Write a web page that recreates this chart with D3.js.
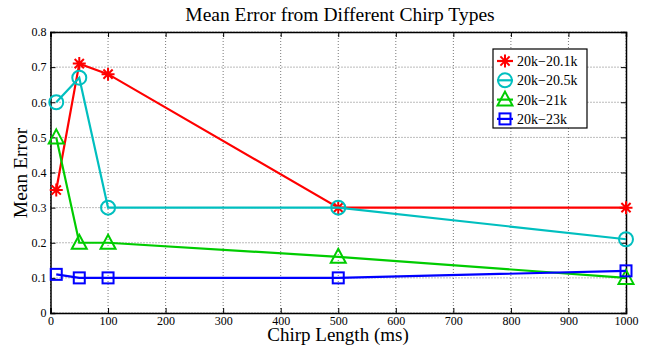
<!DOCTYPE html>
<html>
<head>
<meta charset="utf-8">
<script src="https://cdn.jsdelivr.net/npm/d3@7"></script>
<style>
  body { margin: 0; background: #fff; }
  svg text { font-family: "Liberation Serif", "Times New Roman", serif; fill: #000; }
</style>
</head>
<body>
<div id="chart"></div>
<script>
// chirp lengths (ms)
var lengths = [10, 50, 100, 500, 1000];

var seriesNames = ["20k\u221220.1k", "20k\u221220.5k", "20k\u221221k", "20k\u221223k"];
var err201 = [0.35, 0.71, 0.68, 0.30, 0.30];
var err205 = [0.60, 0.67, 0.30, 0.30, 0.21];
var err21  = [0.50, 0.20, 0.20, 0.16, 0.10];
var err23  = [0.11, 0.10, 0.10, 0.10, 0.12];

var xTicks = [0, 100, 200, 300, 400, 500, 600, 700, 800, 900, 1000];
var yTicks = [0, 0.1, 0.2, 0.3, 0.4, 0.5, 0.6, 0.7, 0.8];

var colors = ["#ff0000", "#00bfbf", "#00cc00", "#0000ff"];
var markers = ["star", "circle", "triangle", "square"];

var margin = {top: 32, right: 25, bottom: 35, left: 50.5},
    width = 651 - margin.left - margin.right,
    height = 348 - margin.top - margin.bottom;

var svg = d3.select("#chart").append("svg")
    .attr("width", 651)
    .attr("height", 348);

var g = svg.append("g")
    .attr("transform", "translate(" + margin.left + "," + margin.top + ")");

var x = d3.scaleLinear().domain([0, 1000]).range([0, width]);
var y = d3.scaleLinear().domain([0, 0.8]).range([height, 0]);

// dotted grid
g.selectAll(".vgrid").data(xTicks).enter().append("line")
    .attr("x1", function(d) { return x(d); })
    .attr("x2", function(d) { return x(d); })
    .attr("y1", 0).attr("y2", height)
    .attr("stroke", "#555").attr("stroke-width", 0.8)
    .attr("stroke-dasharray", "1,2");
g.selectAll(".hgrid").data(yTicks).enter().append("line")
    .attr("y1", function(d) { return y(d); })
    .attr("y2", function(d) { return y(d); })
    .attr("x1", 0).attr("x2", width)
    .attr("stroke", "#555").attr("stroke-width", 0.8)
    .attr("stroke-dasharray", "1,2");

// axes, ticks inward like matlab
var fmtY = function(d) { return d === 0 ? "0" : d3.format(".1f")(d); };
var fmtX = d3.format("d");
g.append("g").attr("transform", "translate(0," + height + ")")
    .call(d3.axisBottom(x).tickValues(xTicks).tickFormat(fmtX).tickSize(-5).tickPadding(3));
g.append("g")
    .call(d3.axisLeft(y).tickValues(yTicks).tickFormat(fmtY).tickSize(-5).tickPadding(4));
g.append("g")
    .call(d3.axisTop(x).tickValues(xTicks).tickSize(-5).tickFormat(""));
g.append("g").attr("transform", "translate(" + width + ",0)")
    .call(d3.axisRight(y).tickValues(yTicks).tickSize(-5).tickFormat(""));

g.selectAll(".domain").attr("stroke", "#000").attr("stroke-width", 1.5);
g.selectAll(".tick line").attr("stroke", "#000");
g.selectAll("g").attr("font-family", "Liberation Serif");
g.selectAll(".tick text").attr("font-size", 12);

// line series
var allSeries = [err201, err205, err21, err23];
var line = d3.line()
    .x(function(d, i) { return x(lengths[i]); })
    .y(function(d) { return y(d); });

function drawMarker(sel, type, color) {
  if (type === "star") {
    sel.append("path")
      .attr("d", "M-6.5,0H6.5M0,-6.5V6.5M-4.6,-4.6L4.6,4.6M-4.6,4.6L4.6,-4.6")
      .attr("stroke", color).attr("stroke-width", 2).attr("fill", "none");
  } else if (type === "circle") {
    sel.append("circle").attr("r", 7)
      .attr("stroke", color).attr("stroke-width", 2).attr("fill", "none");
  } else if (type === "triangle") {
    sel.append("path").attr("d", "M0,-8L7.5,6H-7.5Z")
      .attr("stroke", color).attr("stroke-width", 2).attr("fill", "none");
  } else {
    sel.append("rect").attr("x", -5.5).attr("y", -5.5).attr("width", 11).attr("height", 11)
      .attr("stroke", color).attr("stroke-width", 2).attr("fill", "none");
  }
}

allSeries.forEach(function(vals, s) {
  g.append("path").datum(vals)
    .attr("d", line)
    .attr("fill", "none")
    .attr("stroke", colors[s])
    .attr("stroke-width", 2.2);
  vals.forEach(function(v, i) {
    var m = g.append("g").attr("transform", "translate(" + x(lengths[i]) + "," + y(v) + ")");
    drawMarker(m, markers[s], colors[s]);
  });
});

// legend
var lg = svg.append("g").attr("transform", "translate(493,49)");
lg.append("rect").attr("width", 94).attr("height", 79)
  .attr("fill", "#fff").attr("stroke", "#000").attr("stroke-width", 1.2);
seriesNames.forEach(function(name, s) {
  var row = lg.append("g").attr("transform", "translate(0," + (12 + s * 19.3) + ")");
  row.append("line").attr("x1", 4).attr("x2", 20).attr("y1", 0).attr("y2", 0)
    .attr("stroke", colors[s]).attr("stroke-width", 2.2);
  var m = row.append("g").attr("transform", "translate(12,0)");
  drawMarker(m, markers[s], colors[s]);
  row.append("text").attr("x", 24).attr("y", 5)
    .attr("font-family", "Liberation Serif")
    .style("font-size", "14px").text(name);
});

// titles
svg.append("text").attr("x", 340).attr("y", 21)
  .attr("text-anchor", "middle").style("font-size", "19.5px")
  .text("Mean Error from Different Chirp Types");
svg.append("text").attr("x", 338).attr("y", 341)
  .attr("text-anchor", "middle").style("font-size", "19px")
  .text("Chirp Length (ms)");
svg.append("text")
  .attr("transform", "translate(27,173) rotate(-90)")
  .attr("text-anchor", "middle").style("font-size", "19.5px")
  .text("Mean Error");
</script>
</body>
</html>
